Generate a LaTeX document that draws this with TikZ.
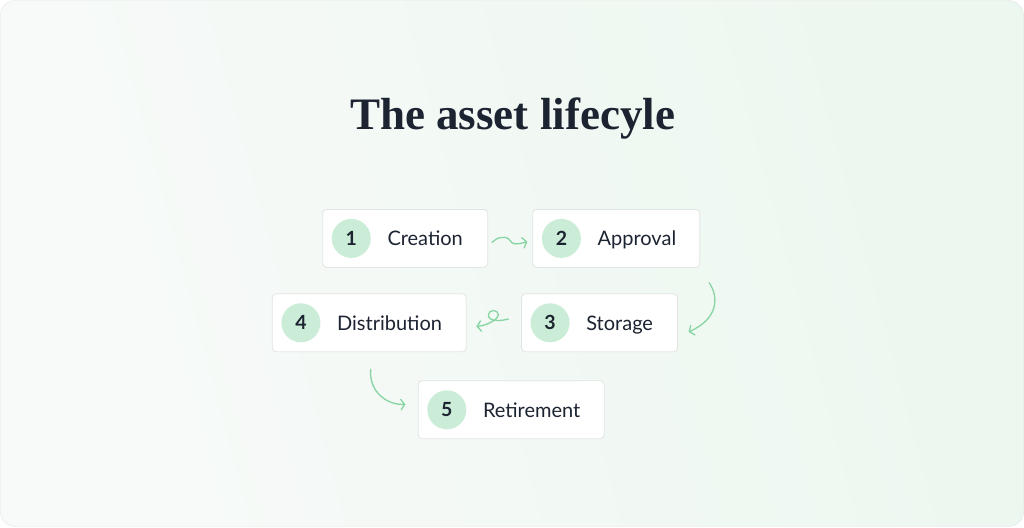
\documentclass[tikz,border=0pt]{standalone}
\usepackage{fontspec}
\setmainfont{Lato}
\newfontfamily\titlefont{Liberation Serif}
\usetikzlibrary{calc}
\usetikzlibrary{arrows.meta}
\definecolor{ink}{HTML}{1C2331}
\definecolor{boxline}{HTML}{E1E5E3}
\definecolor{mint}{HTML}{CBEDD7}
\definecolor{leaf}{HTML}{86D5A3}
\definecolor{bgleft}{HTML}{F8FAF9}
\definecolor{bgright}{HTML}{ECF7EF}
\tikzstyle{stepbox}=[draw=boxline, fill=white, rounded corners=4pt, minimum height=58pt, line width=0.8pt]
\tikzstyle{badge}=[circle, fill=mint, minimum size=39pt, inner sep=0pt, text=ink, font=\fontsize{19.5}{19.5}\selectfont\bfseries]
\tikzstyle{steplabel}=[anchor=base west, inner sep=0pt, text=ink, font=\fontsize{20}{20}\selectfont]
\tikzstyle{flow}=[draw=leaf, line width=1.3pt, line cap=round, -{Straight Barb[length=4pt,width=11pt]}]

\begin{document}
\begin{tikzpicture}[x=1pt, y=-1pt]
      \useasboundingbox (0,0) rectangle (1024,527);
      \shade[left color=bgleft, right color=bgright, shading angle=105, draw=boxline, rounded corners=15pt] (0.5,0.5) rectangle (1023.5,526.5);
      \node[anchor=base, text=ink, font=\titlefont\fontsize{45}{45}\selectfont\bfseries] (title) at (512.5,129.3) {The asset lifecyle};
      \node[stepbox, minimum width=165pt] (b1) at (405.2,238.4) {};
      \node[stepbox, minimum width=167pt] (b2) at (616.3,238.4) {};
      \node[stepbox, minimum width=156pt] (b3) at (599.5,322.8) {};
      \node[stepbox, minimum width=194pt] (b4) at (369.3,322.8) {};
      \node[stepbox, minimum width=186pt] (b5) at (511.2,409.8) {};
      \node[badge] (n1) at ($(b1.west)+(29,0)$) {1};
      \node[badge] (n2) at ($(b2.west)+(29,0)$) {2};
      \node[badge] (n3) at ($(b3.west)+(29,0)$) {3};
      \node[badge] (n4) at ($(b4.west)+(29,0)$) {4};
      \node[badge] (n5) at ($(b5.west)+(29,0)$) {5};
      \node[steplabel] (t1) at ($(n1)+(36,7.5)$) {Creation};
      \node[steplabel] (t2) at ($(n2)+(36,7.5)$) {Approval};
      \node[steplabel] (t3) at ($(n3)+(36,7.5)$) {Storage};
      \node[steplabel] (t4) at ($(n4)+(36,7.5)$) {Distribution};
      \node[steplabel] (t5) at ($(n5)+(36,7.5)$) {Retirement};
      \draw[flow] ($(b1.east)+(4,4)$)
        .. controls +(5,-5) and +(-5,0) .. ++(13,-5)
        .. controls +(5,0) and +(-5,0) .. ++(10,6.5)
        .. controls +(5,0) and +(-4,1) .. ($(b2.west)+(-5,3.3)$);
      \draw[flow] ($(b2.south east)+(9,15)$)
        .. controls +(9,13) and +(31,-14) .. ($(b3.east)+(10.7,9.2)$);
      \draw[flow] ($(b3.west)+(-12.7,-3.8)$)
        .. controls +(-7,2) and +(0,7) .. ++(-20,-4)
        .. controls +(0,-6) and +(0,-6) .. ++(10,0)
        .. controls +(-1,5) and +(10,-1) .. ($(b4.east)+(9.7,3.7)$);
      \draw[flow] ($(b4.south)+(1.4,17)$)
        .. controls +(-2,23) and +(-18,1) .. ($(b5.west)+(-12.3,-5.5)$);
    \end{tikzpicture}
\end{document}
